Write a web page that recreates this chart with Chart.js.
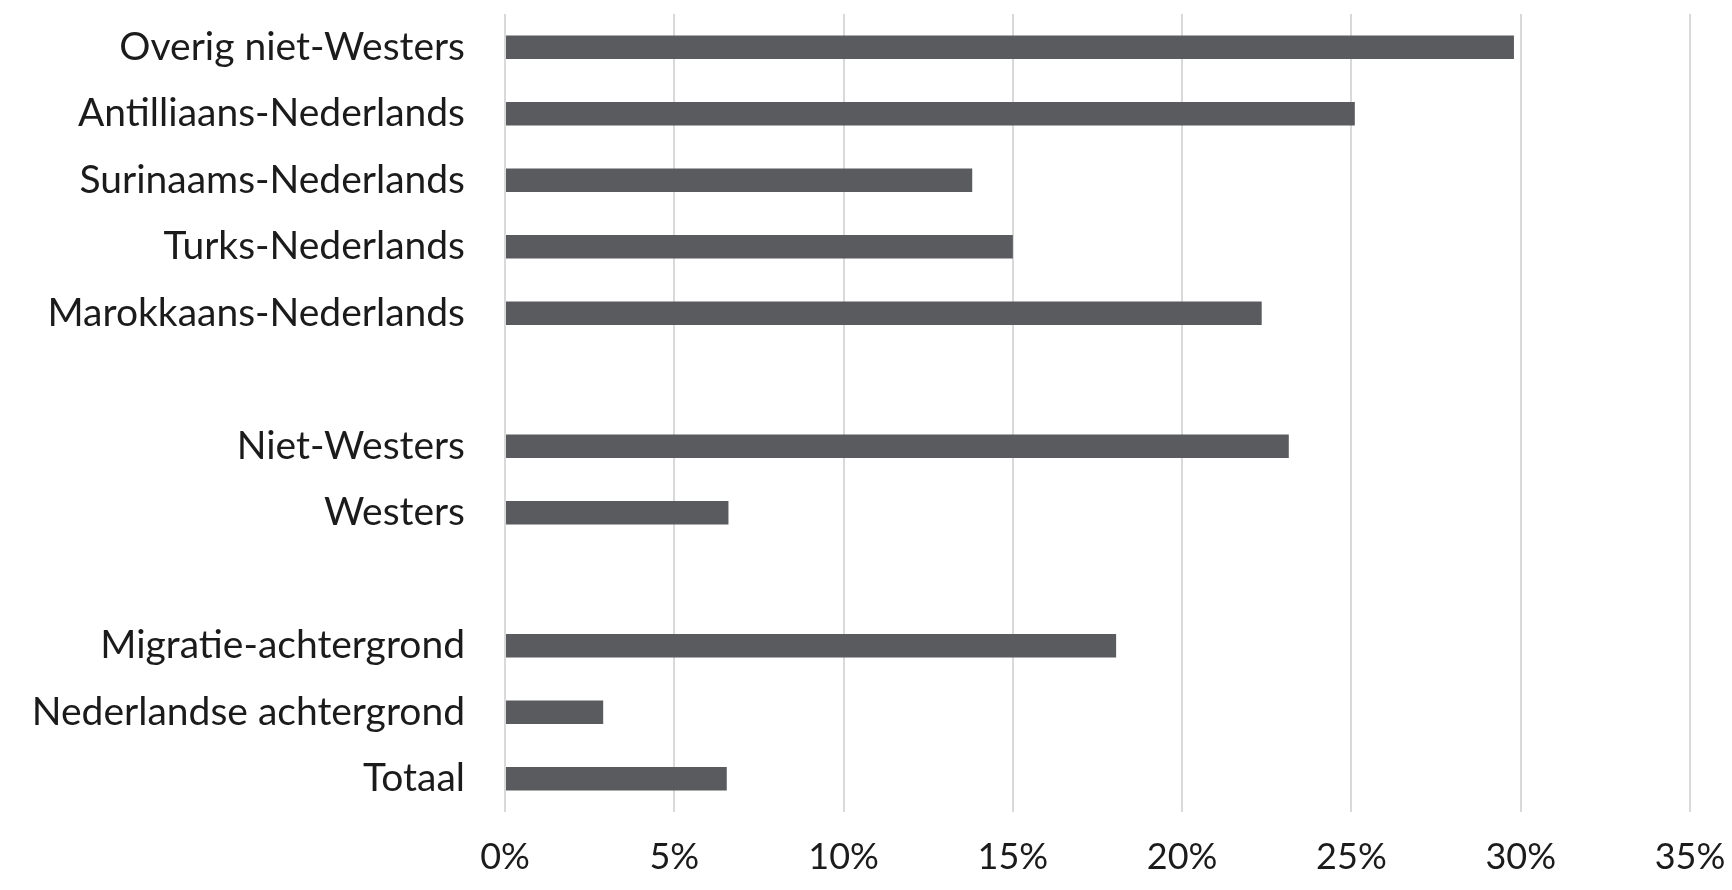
<!DOCTYPE html>
<html>
<head>
<meta charset="utf-8">
<script src="https://cdn.jsdelivr.net/npm/chart.js@4.4.1/dist/chart.umd.min.js"></script>
<style>
  html, body { margin: 0; padding: 0; background: #fff; }
  #wrap { width: 1732px; height: 890px; }
</style>
</head>
<body>
<div id="wrap"><canvas id="chart" width="1732" height="890"></canvas></div>
<script>
// categorieen, lege labels zijn de witregels tussen de groepen
const categories = [
    'Overig niet-Westers',
    'Antilliaans-Nederlands',
    'Surinaams-Nederlands',
    'Turks-Nederlands',
    'Marokkaans-Nederlands',
    '',
    'Niet-Westers',
    'Westers',
    '',
    'Migratie-achtergrond',
    'Nederlandse achtergrond',
    'Totaal'
];
const values = [29.8, 25.1, 13.8, 15.0, 22.35, null, 23.15, 6.6, null, 18.05, 2.9, 6.55];
const xTicks = [0, 5, 10, 15, 20, 25, 30, 35];

const fontFamily = 'Lato, "Open Sans", sans-serif';

const ctx = document.getElementById('chart').getContext('2d');
new Chart(ctx, {
    type: 'bar',
    data: {
        labels: categories,
        datasets: [{
            data: values,
            backgroundColor: '#5a5b5f',
            borderWidth: 0,
            categoryPercentage: 1,
            barPercentage: 0.355
        }]
    },
    options: {
        indexAxis: 'y',
        responsive: false,
        animation: false,
        layout: { padding: { top: 14, right: 42, left: 0, bottom: 0 } },
        plugins: {
            legend: { display: false },
            tooltip: { enabled: false }
        },
        scales: {
            x: {
                min: 0,
                max: 35,
                afterBuildTicks: scale => {
                    scale.ticks = xTicks.map(v => ({ value: v }));
                },
                afterFit: scale => {
                    scale.height = 78;
                    scale.paddingLeft = 0;
                    scale.paddingRight = 0;
                },
                grid: { color: '#d9d9d9', lineWidth: 2, drawTicks: false },
                border: { display: false },
                ticks: {
                    padding: 24,
                    color: '#1b1b1b',
                    font: { family: fontFamily, size: 36 },
                    callback: v => v + '%'
                }
            },
            y: {
                afterFit: scale => {
                    scale.width = 505;
                    scale.paddingTop = 0;
                    scale.paddingBottom = 0;
                },
                grid: { display: false, drawTicks: false },
                border: { display: false },
                ticks: {
                    autoSkip: false,
                    padding: 40,
                    color: '#1b1b1b',
                    font: { family: fontFamily, size: 39 }
                }
            }
        }
    }
});
</script>
</body>
</html>
